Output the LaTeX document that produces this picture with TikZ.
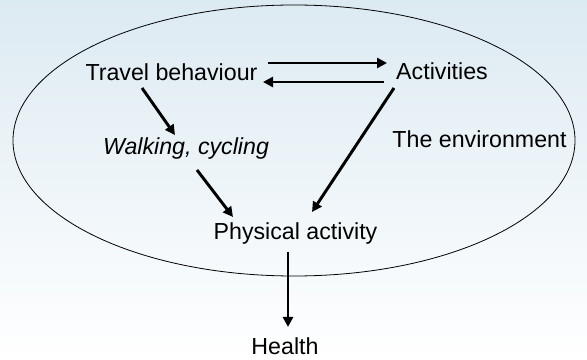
\documentclass[tikz,border=0pt]{standalone}
\usepackage{fontspec}
\setmainfont{Liberation Sans}
\usepackage{tikz}
\usetikzlibrary{arrows.meta}
\definecolor{bgtop}{RGB}{220,234,242}
\tikzset{txt/.style = {anchor = base, inner sep = 0, font = \fontsize{17.4}{20}\selectfont}}
\tikzset{arr/.style = {line width = 2.2pt, -{Triangle[length = 7.5pt, width = 7.5pt]}}}
\tikzset{ring/.style = {draw, line width = 0.6pt}}

\begin{document}
\begin{tikzpicture}[x = 0.75pt, y = -0.75pt]
      \useasboundingbox (0, 0) rectangle (587, 360);
      \shade [top color = bgtop, bottom color = white] (0, 0) rectangle (587, 360);

      \draw [ring] (294, 140.5) ellipse [x radius = 281, y radius = 135.5];

      \node [txt] (tb) at (171.5, 81) {Travel behaviour};
      \node [txt] (act) at (442, 80) {Activities};
      \node [txt] (wc) at (186, 155) {\itshape Walking, cycling};
      \node [txt] (env) at (479.5, 148) {The environment};
      \node [txt] (pa) at (295.5, 240) {Physical activity};
      \node [txt] (hl) at (285, 355) {Health};

      \draw [arr] ([shift = {(96.5, -18)}]tb.base) -- ([shift = {(-55, -17)}]act.base);
      \draw [arr] ([shift = {(-58, 2)}]act.base) -- ([shift = {(91.5, 1)}]tb.base);

      \draw [arr] ([shift = {(-29.5, 7)}]tb.base) -- ([shift = {(-11, -20)}]wc.base);
      \draw [arr] ([shift = {(11, 15)}]wc.base) -- ([shift = {(-62.5, -23)}]pa.base);
      \draw [arr] ([shift = {(-48, 8)}]act.base) -- ([shift = {(16.5, -28)}]pa.base);

      \draw [arr] ([shift = {(-7.5, 12)}]pa.base) -- ([shift = {(3, -28)}]hl.base);
    \end{tikzpicture}
\end{document}
